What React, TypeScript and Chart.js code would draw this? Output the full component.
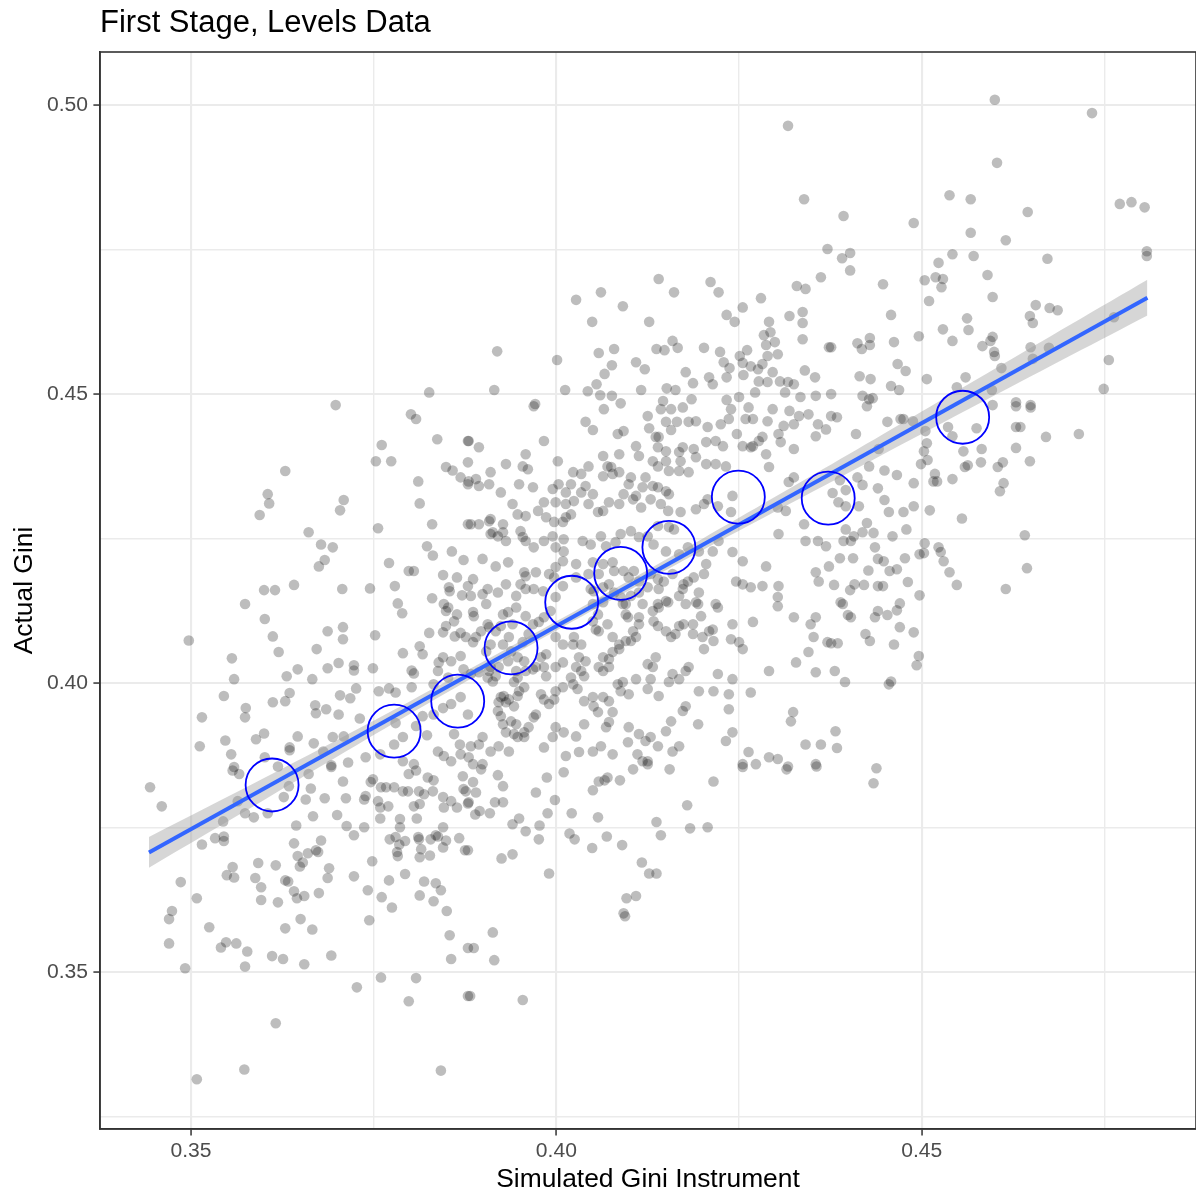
import React, { useEffect, useRef } from 'react';
import { Chart, registerables } from 'chart.js';

Chart.register(...registerables);

const chartTitle = 'First Stage, Levels Data';
const xAxisTitle = 'Simulated Gini Instrument';
const yAxisTitle = 'Actual Gini';

const xMajorTicks = [0.35, 0.4, 0.45];
const xTickLabels = ['0.35', '0.40', '0.45'];
const xMinorTicks = [0.375, 0.425, 0.475];
const yMajorTicks = [0.35, 0.4, 0.45, 0.5];
const yTickLabels = ['0.35', '0.40', '0.45', '0.50'];
const yMinorTicks = [0.325, 0.375, 0.425, 0.475];
const xRange = [0.33755, 0.48753];
const yRange = [0.3229, 0.50917];

// fitted line (geom_smooth, method = lm)
const fitX = [0.34425, 0.48088];
const fitY = [0.37072, 0.46666];
// confidence band
const bandX = [0.34425, 0.36, 0.38, 0.4, 0.42, 0.44, 0.46, 0.48088];
const bandLower = [0.3681, 0.3798, 0.3947, 0.4091, 0.423, 0.4364, 0.4498, 0.4636];
const bandUpper = [0.3734, 0.3836, 0.3969, 0.4107, 0.425, 0.4396, 0.4544, 0.4698];

// binned means (blue open circles)
const binX = [0.3611, 0.3778, 0.3865, 0.3938, 0.4021, 0.4088, 0.4154, 0.4249, 0.4372, 0.4556];
const binY = [0.3824, 0.3917, 0.3969, 0.4061, 0.414, 0.419, 0.4235, 0.4322, 0.432, 0.446];

// scatter: [simulated instrument, actual gini]
const giniPoints: [number, number][] = [
  [0.4733,0.4986],[0.4600,0.5009],[0.4317,0.4964],[0.4603,0.4900],[0.4771,0.4829],[0.4787,0.4832],[0.4805,0.4823],[0.4808,0.4747],[0.4808,0.4739],[0.4538,0.4844],
  [0.4567,0.4837],[0.4393,0.4808],[0.4489,0.4796],[0.4645,0.4815],[0.4567,0.4779],[0.4615,0.4766],[0.4339,0.4837],[0.4371,0.4751],[0.4391,0.4735],[0.4402,0.4744],
  [0.4402,0.4714],[0.4542,0.4742],[0.4523,0.4727],[0.4571,0.4739],[0.4672,0.4734],[0.4590,0.4706],[0.4504,0.4697],[0.4519,0.4702],[0.4529,0.4699],[0.4527,0.4685],
  [0.4447,0.4690],[0.4597,0.4668],[0.4510,0.4661],[0.4656,0.4654],[0.4675,0.4649],[0.4686,0.4645],[0.4648,0.4635],[0.4652,0.4623],[0.4763,0.4633],[0.4562,0.4631],
  [0.4529,0.4612],[0.4564,0.4611],[0.4458,0.4637],[0.4496,0.4600],[0.4542,0.4592],[0.4597,0.4599],[0.4594,0.4592],[0.4583,0.4583],[0.4462,0.4590],[0.4429,0.4597],
  [0.4412,0.4588],[0.4418,0.4578],[0.4429,0.4585],[0.4376,0.4581],[0.4599,0.4573],[0.4600,0.4566],[0.4649,0.4581],[0.4674,0.4580],[0.4652,0.4561],[0.4609,0.4545],
  [0.4467,0.4552],[0.4478,0.4540],[0.4415,0.4531],[0.4430,0.4526],[0.4507,0.4526],[0.4560,0.4529],[0.4756,0.4559],[0.4749,0.4509],[0.4458,0.4514],[0.4469,0.4507],
  [0.4419,0.4497],[0.4428,0.4491],[0.4433,0.4493],[0.4376,0.4500],[0.4548,0.4512],[0.4596,0.4507],[0.4629,0.4486],[0.4649,0.4481],[0.4597,0.4481],[0.4425,0.4479],
  [0.4715,0.4431],[0.4670,0.4426],
  [0.4140,0.4699],[0.4211,0.4694],[0.4222,0.4676],[0.4161,0.4676],[0.4061,0.4676],[0.4027,0.4663],[0.4091,0.4652],[0.4049,0.4625],[0.4127,0.4625],[0.4233,0.4637],
  [0.4244,0.4625],[0.4255,0.4650],[0.4280,0.4666],[0.4329,0.4687],[0.4341,0.4682],[0.4362,0.4702],[0.4319,0.4635],[0.4337,0.4642],[0.4337,0.4623],[0.4337,0.4595],
  [0.4373,0.4581],[0.4291,0.4625],[0.4284,0.4602],[0.4293,0.4607],[0.4299,0.4590],[0.4287,0.4585],[0.4303,0.4569],[0.4289,0.4566],[0.4282,0.4552],[0.4276,0.4543],
  [0.4266,0.4548],[0.4255,0.4554],[0.4261,0.4576],[0.4251,0.4566],[0.4237,0.4545],[0.4229,0.4555],[0.4224,0.4573],[0.4202,0.4580],[0.4166,0.4580],[0.4159,0.4592],
  [0.4148,0.4576],[0.4137,0.4578],[0.4109,0.4555],[0.4121,0.4543],[0.4079,0.4578],[0.4058,0.4571],[0.4076,0.4550],[0.4066,0.4535],[0.4001,0.4559],[0.3919,0.4574],
  [0.3915,0.4507],[0.3971,0.4483],[0.4012,0.4507],[0.4043,0.4505],[0.4055,0.4517],[0.4060,0.4498],[0.4076,0.4497],[0.4088,0.4484],[0.4116,0.4507],[0.4151,0.4510],
  [0.4163,0.4507],[0.4177,0.4538],[0.4187,0.4519],[0.4209,0.4529],[0.4214,0.4517],[0.4233,0.4529],[0.4256,0.4533],[0.4272,0.4503],[0.4277,0.4522],[0.4289,0.4521],
  [0.4296,0.4538],[0.4306,0.4522],[0.4317,0.4521],[0.4325,0.4517],[0.4340,0.4541],[0.4354,0.4529],[0.4313,0.4503],[0.4334,0.4495],[0.4355,0.4497],[0.4250,0.4495],
  [0.4233,0.4490],[0.4185,0.4491],[0.4146,0.4488],[0.3826,0.4503],[0.3698,0.4481],
  [0.3801,0.4465],[0.3808,0.4457],[0.3761,0.4412],[0.3753,0.4384],[0.3774,0.4384],[0.3837,0.4422],[0.3849,0.4374],[0.3858,0.4368],[0.3869,0.4356],[0.3879,0.4382],
  [0.3879,0.4419],[0.3879,0.4344],[0.3811,0.4349],[0.3813,0.4311],[0.3830,0.4275],[0.3879,0.4275],[0.3629,0.4367],[0.3605,0.4327],[0.3607,0.4311],[0.3594,0.4291],
  [0.3709,0.4317],[0.3704,0.4299],[0.3756,0.4268],[0.3661,0.4261],[0.3678,0.4240],[0.3694,0.4235],[0.3683,0.4213],[0.3675,0.4202],[0.3823,0.4237],[0.3831,0.4221],
  [0.3857,0.4228],[0.3873,0.4213],[0.3771,0.4208],[0.3798,0.4194],[0.3805,0.4194],[0.3845,0.4187],[0.3864,0.4183],[0.3879,0.4168],[0.3853,0.4166],[0.3854,0.4159],
  [0.3871,0.4152],[0.3830,0.4147],[0.3846,0.4137],[0.3852,0.4131],[0.3849,0.4125],[0.3864,0.4119],[0.3860,0.4107],[0.3849,0.4099],[0.3845,0.4088],[0.3869,0.4087],
  [0.3861,0.4081],[0.3826,0.4087],[0.3641,0.4170],[0.3600,0.4161],[0.3615,0.4161],[0.3707,0.4163],[0.3745,0.4164],[0.3779,0.4168],[0.3783,0.4138],[0.3789,0.4121],
  [0.3574,0.4137],[0.3601,0.4111],[0.3612,0.4081],[0.3497,0.4074],[0.3687,0.4090],[0.3708,0.4097],[0.3708,0.4076],[0.3752,0.4083],[0.3620,0.4054],[0.3672,0.4059],
  [0.3556,0.4043],[0.3559,0.4007],[0.3545,0.3978],[0.3646,0.4024],[0.3631,0.4012],[0.3666,0.4007],[0.3687,0.4026],[0.3702,0.4035],[0.3723,0.4031],[0.3723,0.4022],
  [0.3749,0.4026],[0.3790,0.4052],[0.3813,0.4064],[0.3817,0.4050],[0.3802,0.4022],[0.3805,0.4017],[0.3839,0.4036],[0.3845,0.4045],[0.3856,0.4038],[0.3869,0.4047],
  [0.3838,0.4021],[0.3832,0.3998],[0.3852,0.4010],[0.3873,0.4024],[0.3802,0.3993],[0.3771,0.3991],[0.3780,0.3984],[0.3757,0.3986],[0.3726,0.3991],[0.3704,0.3979],
  [0.3718,0.3974],[0.3635,0.3983],[0.3629,0.3969],[0.3612,0.3967],[0.3670,0.3962],[0.3671,0.3948],[0.3685,0.3955],[0.3702,0.3946],[0.3731,0.3939],[0.3575,0.3957],
  [0.3574,0.3941],[0.3515,0.3941],[0.3512,0.3891],[0.3547,0.3901],[0.3555,0.3877],[0.3589,0.3903],[0.3600,0.3913],[0.3646,0.3908],[0.3635,0.3889],[0.3635,0.3884],
  [0.3668,0.3896],[0.3694,0.3907],[0.3709,0.3908],[0.3681,0.3882],[0.3715,0.3863],[0.3739,0.3872],[0.3759,0.3877],[0.3778,0.3894],[0.3790,0.3907],[0.3780,0.3931],
  [0.3808,0.3926],[0.3817,0.3943],[0.3823,0.3910],[0.3832,0.3946],[0.3845,0.3957],[0.3856,0.3964],[0.3838,0.3882],[0.3846,0.3874],[0.3856,0.3865],[0.3868,0.3894],
  [0.3869,0.3877],[0.3860,0.3912],[0.3790,0.3865],[0.3805,0.3860],[0.3692,0.3858],[0.3601,0.3872],[0.3559,0.3855],[0.3879,0.3946],[0.3869,0.3976],
  [0.3444,0.3820],[0.3460,0.3787],[0.3557,0.3849],[0.3566,0.3843],[0.3619,0.3856],[0.3634,0.3822],[0.3627,0.3803],[0.3605,0.3775],[0.3586,0.3768],[0.3574,0.3775],
  [0.3544,0.3761],[0.3533,0.3732],[0.3545,0.3735],[0.3545,0.3727],[0.3515,0.3721],[0.3564,0.3796],[0.3661,0.3843],[0.3664,0.3818],[0.3657,0.3799],[0.3692,0.3855],
  [0.3708,0.3830],[0.3712,0.3801],[0.3683,0.3801],[0.3667,0.3770],[0.3700,0.3772],[0.3644,0.3754],[0.3641,0.3723],[0.3678,0.3728],[0.3671,0.3711],[0.3674,0.3708],
  [0.3660,0.3706],[0.3646,0.3701],[0.3653,0.3690],[0.3649,0.3683],[0.3629,0.3659],[0.3633,0.3657],[0.3592,0.3689],[0.3616,0.3685],[0.3557,0.3682],[0.3549,0.3668],
  [0.3559,0.3664],[0.3588,0.3663],[0.3596,0.3647],[0.3596,0.3625],[0.3619,0.3621],[0.3641,0.3640],[0.3645,0.3628],[0.3655,0.3632],[0.3675,0.3637],[0.3689,0.3680],
  [0.3687,0.3663],[0.3713,0.3753],[0.3723,0.3737],[0.3737,0.3751],[0.3737,0.3799],[0.3739,0.3805],[0.3749,0.3834],[0.3746,0.3829],[0.3723,0.3666],[0.3748,0.3692],
  [0.3742,0.3642],[0.3761,0.3630],[0.3775,0.3612],[0.3771,0.3659],[0.3756,0.3796],[0.3759,0.3785],[0.3759,0.3766],[0.3770,0.3787],[0.3760,0.3820],[0.3767,0.3820],
  [0.3778,0.3820],[0.3790,0.3813],[0.3797,0.3813],[0.3805,0.3787],[0.3798,0.3843],[0.3808,0.3849],[0.3812,0.3813],[0.3813,0.3791],[0.3824,0.3837],[0.3832,0.3832],
  [0.3819,0.3808],[0.3831,0.3813],[0.3845,0.3803],[0.3856,0.3796],[0.3846,0.3785],[0.3872,0.3839],[0.3873,0.3817],[0.3879,0.3792],[0.3864,0.3785],[0.3786,0.3765],
  [0.3786,0.3751],[0.3809,0.3766],[0.3772,0.3730],[0.3780,0.3734],[0.3785,0.3721],[0.3793,0.3727],[0.3782,0.3708],[0.3783,0.3701],[0.3811,0.3734],[0.3812,0.3730],
  [0.3815,0.3713],[0.3828,0.3730],[0.3835,0.3737],[0.3838,0.3735],[0.3845,0.3751],[0.3849,0.3728],[0.3845,0.3716],[0.3867,0.3732],[0.3875,0.3711],[0.3813,0.3699],
  [0.3827,0.3702],[0.3793,0.3670],[0.3819,0.3657],[0.3835,0.3654],[0.3842,0.3642],[0.3813,0.3633],[0.3832,0.3623],[0.3850,0.3606],[0.3854,0.3564],[0.3856,0.3523],
  [0.3879,0.3542],[0.3879,0.3459],[0.3808,0.3490],[0.3798,0.3450],[0.3760,0.3491],[0.3727,0.3474],[0.3842,0.3330],[0.3744,0.3590],[0.3692,0.3529],[0.3666,0.3574],
  [0.3650,0.3592],[0.3629,0.3576],[0.3611,0.3528],[0.3626,0.3523],[0.3655,0.3514],[0.3574,0.3510],[0.3577,0.3536],[0.3562,0.3550],[0.3548,0.3552],[0.3541,0.3543],
  [0.3525,0.3578],[0.3508,0.3628],[0.3486,0.3656],[0.3474,0.3606],[0.3470,0.3592],[0.3470,0.3550],[0.3492,0.3507],[0.3616,0.3412],[0.3573,0.3332],[0.3508,0.3315],
  [0.3897,0.3851],[0.3920,0.3841],[0.3927,0.3822],[0.3886,0.3829],[0.3890,0.3811],[0.3876,0.3813],[0.3880,0.3794],[0.3889,0.3773],[0.3895,0.3779],[0.3909,0.3775],
  [0.3916,0.3794],[0.3927,0.3794],[0.3949,0.3766],[0.3940,0.3756],[0.3958,0.3744],[0.3972,0.3811],[0.3987,0.3837],[0.4010,0.3846],[0.3998,0.3798],[0.3988,0.3775],
  [0.3977,0.3754],[0.3976,0.3730],[0.3925,0.3697],[0.3940,0.3704],[0.3990,0.3671],[0.3879,0.3711],[0.4018,0.3740],[0.4025,0.3730],[0.4021,0.3775],[0.4049,0.3715],
  [0.4057,0.3768],[0.4069,0.3735],[0.4090,0.3720],[0.4050,0.3815],[0.4058,0.3830],[0.4070,0.3837],[0.4066,0.3832],[0.4087,0.3832],[0.4105,0.3851],[0.4125,0.3860],
  [0.4155,0.3851],[0.4137,0.3760],[0.4143,0.3737],[0.4117,0.3690],[0.4127,0.3671],[0.4137,0.3671],[0.4096,0.3628],[0.4109,0.3632],[0.4092,0.3602],[0.4094,0.3597],
  [0.4179,0.3789],[0.4183,0.3749],[0.4207,0.3751],[0.4215,0.3830],[0.4255,0.3855],[0.4315,0.3851],[0.4356,0.3856],[0.3913,0.3569],[0.3887,0.3542],[0.3915,0.3521],
  [0.3882,0.3459],[0.3954,0.3452],[0.4438,0.3853],[0.4434,0.3827],
  [0.4384,0.4460],[0.4410,0.4431],[0.4453,0.4452],[0.4471,0.4457],[0.4475,0.4457],[0.4488,0.4453],[0.4505,0.4436],[0.4507,0.4415],[0.4503,0.4401],[0.4508,0.4386],
  [0.4499,0.4379],[0.4441,0.4405],[0.4428,0.4375],[0.4449,0.4368],[0.4466,0.4360],[0.4489,0.4346],[0.4518,0.4362],[0.4521,0.4349],[0.4516,0.4349],[0.4542,0.4353],
  [0.4557,0.4401],[0.4563,0.4377],[0.4559,0.4374],[0.4582,0.4405],[0.4581,0.4382],[0.4575,0.4441],[0.4536,0.4443],[0.4542,0.4427],[0.4629,0.4479],[0.4629,0.4443],
  [0.4635,0.4443],[0.4629,0.4407],[0.4649,0.4477],[0.4648,0.4384],[0.4611,0.4382],[0.4604,0.4374],[0.4612,0.4346],[0.4607,0.4332],[0.4555,0.4285],[0.4641,0.4256],
  [0.4644,0.4199],[0.4615,0.4163],[0.4548,0.4170],[0.4538,0.4192],[0.4530,0.4211],[0.4523,0.4235],[0.4526,0.4227],[0.4504,0.4242],[0.4497,0.4223],[0.4503,0.4225],
  [0.4481,0.4175],[0.4497,0.4152],[0.4470,0.4138],[0.4466,0.4126],[0.4453,0.4118],[0.4440,0.4125],[0.4436,0.4114],[0.4470,0.4097],[0.4489,0.4088],[0.4462,0.4067],
  [0.4429,0.4073],[0.4423,0.4085],[0.4496,0.4047],[0.4493,0.4031],[0.4458,0.4003],[0.4455,0.3998],[0.4395,0.4002],[0.4381,0.4021],[0.4385,0.4069],[0.4376,0.4069],
  [0.4403,0.4114],[0.4399,0.4118],[0.4392,0.4137],[0.4389,0.4140],[0.4402,0.4161],[0.4408,0.4171],[0.4421,0.4170],[0.4440,0.4168],[0.4447,0.4168],[0.4427,0.4195],
  [0.4456,0.4194],[0.4466,0.4197],[0.4440,0.4215],[0.4448,0.4211],[0.4477,0.4216],[0.4460,0.4254],[0.4479,0.4266],[0.4436,0.4235],[0.4406,0.4216],[0.4388,0.4216],
  [0.4380,0.4170],[0.4396,0.4266],[0.4407,0.4254],[0.4419,0.4261],[0.4434,0.4260],[0.4425,0.4277],[0.4403,0.4246],[0.4393,0.4246],[0.4414,0.4306],[0.4396,0.4306],
  [0.4386,0.4313],[0.4396,0.4334],[0.4388,0.4351],[0.4378,0.4329],[0.4449,0.4317],[0.4455,0.4296],[0.4475,0.4296],[0.4489,0.4306],[0.4511,0.4299],[0.4440,0.4337],
  [0.4412,0.4356],[0.4419,0.4343],[0.4382,0.3917],[0.4384,0.3888],
  [0.3969,0.4479],[0.4125,0.4462],[0.4143,0.4474],[0.4157,0.4474],[0.4173,0.4477],[0.4165,0.4452],[0.4191,0.4453],[0.4207,0.4443],[0.4225,0.4448],[0.4236,0.4457],
  [0.4239,0.4474],[0.4263,0.4477],[0.4269,0.4457],[0.4259,0.4457],[0.4289,0.4453],[0.4296,0.4474],[0.4319,0.4471],[0.4332,0.4462],[0.4345,0.4465],[0.4311,0.4445],
  [0.4325,0.4448],[0.4358,0.4448],[0.4355,0.4427],[0.4369,0.4439],[0.4376,0.4462],[0.4040,0.4452],[0.4050,0.4438],[0.4084,0.4431],[0.4092,0.4436],[0.4065,0.4474],
  [0.4127,0.4441],[0.4140,0.4426],[0.4150,0.4452],[0.4157,0.4438],[0.4181,0.4452],[0.4218,0.4419],[0.4205,0.4417],[0.4228,0.4410],[0.4247,0.4431],[0.4255,0.4410],
  [0.4269,0.4410],[0.4277,0.4419],[0.4282,0.4426],[0.4287,0.4396],[0.4307,0.4417],[0.4304,0.4431],[0.4325,0.4405],[0.4291,0.4374],[0.4266,0.4408],[0.4173,0.4408],
  [0.4168,0.4400],[0.4188,0.4405],[0.4191,0.4391],[0.4170,0.4384],[0.4150,0.4401],[0.4136,0.4426],[0.4139,0.4408],[0.4113,0.4393],[0.4109,0.4410],[0.4132,0.4384],
  [0.4139,0.4375],[0.4150,0.4384],[0.4154,0.4367],[0.4168,0.4367],[0.4181,0.4365],[0.4205,0.4379],[0.4218,0.4379],[0.4232,0.4375],[0.4086,0.4396],[0.4064,0.4393],
  [0.4070,0.4375],[0.4075,0.4374],[0.4077,0.4362],[0.4086,0.4365],[0.4064,0.4358],[0.4044,0.4375],[0.4034,0.4362],[0.4023,0.4365],[0.4003,0.4344],[0.4020,0.4344],
  [0.4040,0.4341],[0.4050,0.4327],[0.4034,0.4330],[0.4013,0.4330],[0.3995,0.4336],[0.3983,0.4313],[0.3999,0.4313],[0.4013,0.4310],[0.4024,0.4315],[0.4044,0.4310],
  [0.4057,0.4296],[0.4064,0.4298],[0.4072,0.4313],[0.4086,0.4310],[0.4092,0.4327],[0.4099,0.4344],[0.4102,0.4356],[0.4109,0.4324],[0.4105,0.4318],[0.4118,0.4339],
  [0.4122,0.4356],[0.4132,0.4341],[0.4139,0.4339],[0.4150,0.4332],[0.4154,0.4327],[0.4116,0.4304],[0.4143,0.4310],[0.4129,0.4318],[0.4153,0.4298],[0.4170,0.4296],
  [0.4191,0.4301],[0.4202,0.4310],[0.4207,0.4318],[0.4221,0.4306],[0.4241,0.4324],[0.4239,0.4296],[0.4020,0.4292],[0.4013,0.4287],[0.4009,0.4279],[0.3986,0.4287],
  [0.3997,0.4279],[0.3975,0.4298],[0.3958,0.4289],[0.3947,0.4292],[0.3940,0.4310],[0.3927,0.4275],[0.3931,0.4246],[0.3920,0.4254],[0.3910,0.4258],[0.3908,0.4280],
  [0.3894,0.4275],[0.3883,0.4275],[0.3951,0.4263],[0.3954,0.4253],[0.3958,0.4246],[0.3969,0.4235],[0.3983,0.4246],[0.3995,0.4254],[0.4010,0.4249],[0.3999,0.4235],
  [0.4010,0.4228],[0.4036,0.4246],[0.4047,0.4240],[0.4061,0.4254],[0.4068,0.4237],[0.4081,0.4244],[0.4088,0.4258],[0.4102,0.4263],[0.4113,0.4253],[0.4125,0.4254],
  [0.4139,0.4272],[0.4154,0.4270],[0.4161,0.4266],[0.4133,0.4240],[0.4150,0.4228],[0.4168,0.4223],[0.4180,0.4235],[0.4195,0.4228],[0.4214,0.4228],[0.4222,0.4246],
  [0.4241,0.4227],[0.4255,0.4211],[0.4287,0.4202],[0.4304,0.4258],[0.4339,0.4275],[0.4341,0.4246],[0.4358,0.4246],[0.4369,0.4237],[0.4325,0.4356],[0.4318,0.4348],
  [0.4314,0.4298],[0.4303,0.4304],[0.4355,0.4192],[0.4359,0.4176],[0.4373,0.4202],[0.4282,0.4168],[0.4266,0.4166],[0.4255,0.4171],[0.4246,0.4176],[0.4304,0.4168],
  [0.4303,0.4149],[0.4303,0.4133],[0.4325,0.4114],[0.4348,0.4102],[0.4355,0.4114],[0.4352,0.4080],[0.4371,0.4071],[0.4345,0.4054],[0.4328,0.4036],[0.4355,0.4019],
  [0.4291,0.4021],[0.4269,0.4106],[0.4241,0.4102],[0.4221,0.4131],[0.4218,0.4137],[0.4194,0.4137],[0.4191,0.4140],[0.4177,0.4137],[0.4198,0.4116],[0.4187,0.4102],
  [0.4209,0.4090],[0.4214,0.4093],[0.4200,0.4080],[0.4215,0.4073],[0.4239,0.4076],[0.4250,0.4071],[0.4255,0.4059],[0.4202,0.4059],[0.4187,0.4085],[0.4174,0.4102],
  [0.4168,0.4099],[0.4163,0.4085],[0.4150,0.4090],[0.4157,0.4080],[0.4133,0.4107],[0.4139,0.4099],[0.4132,0.4125],[0.4113,0.4114],[0.4113,0.4102],[0.4095,0.4119],
  [0.4098,0.4114],[0.4091,0.4137],[0.4095,0.4137],[0.4118,0.4137],[0.4139,0.4137],[0.4140,0.4131],[0.4150,0.4142],[0.4153,0.4140],[0.4168,0.4151],[0.4173,0.4163],
  [0.4195,0.4157],[0.4205,0.4206],[0.4202,0.4189],[0.4188,0.4183],[0.4180,0.4176],[0.4174,0.4171],[0.4159,0.4189],[0.4147,0.4176],[0.4140,0.4163],[0.4125,0.4166],
  [0.4113,0.4157],[0.4102,0.4151],[0.4113,0.4176],[0.4129,0.4189],[0.4139,0.4180],[0.4099,0.4183],[0.4106,0.4194],[0.4092,0.4194],[0.4077,0.4209],[0.4079,0.4194],
  [0.4064,0.4206],[0.4058,0.4189],[0.4050,0.4209],[0.4044,0.4189],[0.4047,0.4163],[0.4051,0.4159],[0.4064,0.4166],[0.4072,0.4171],[0.4079,0.4157],[0.4088,0.4149],
  [0.4064,0.4140],[0.4050,0.4137],[0.4057,0.4119],[0.4050,0.4107],[0.4054,0.4093],[0.4058,0.4090],[0.4070,0.4102],[0.4077,0.4080],[0.4086,0.4067],[0.4095,0.4073],
  [0.4102,0.4073],[0.4109,0.4080],[0.4105,0.4090],[0.4077,0.4054],[0.4086,0.4059],[0.4072,0.4042],[0.4064,0.4045],[0.4058,0.4028],[0.4064,0.4021],[0.4072,0.4028],
  [0.4034,0.4067],[0.4023,0.4067],[0.4024,0.4080],[0.4009,0.4067],[0.3999,0.4080],[0.4031,0.4045],[0.4040,0.4038],[0.4027,0.4028],[0.4034,0.4021],[0.4038,0.4012],
  [0.4009,0.4036],[0.3999,0.4028],[0.3986,0.4050],[0.3979,0.4045],[0.3972,0.4028],[0.3983,0.4028],[0.3986,0.4012],[0.3968,0.4024],[0.3958,0.4021],[0.3956,0.4038],
  [0.3947,0.4045],[0.3938,0.4055],[0.3934,0.4038],[0.3921,0.4028],[0.3917,0.4012],[0.3913,0.4003],[0.3906,0.4010],[0.3908,0.4021],[0.3910,0.4028],[0.3894,0.4019],
  [0.3883,0.4016],[0.3945,0.4021],[0.3947,0.4010],[0.3942,0.4002],[0.3956,0.3993],[0.3949,0.3986],[0.3947,0.3978],[0.3935,0.3972],[0.3928,0.3978],[0.3924,0.3976],
  [0.3921,0.3967],[0.3931,0.3967],[0.3942,0.3960],[0.3924,0.3943],[0.3920,0.3952],[0.3927,0.3929],[0.3938,0.3934],[0.3945,0.3929],[0.3931,0.3915],[0.3942,0.3912],
  [0.3956,0.3915],[0.3962,0.3924],[0.3969,0.3941],[0.3972,0.3946],[0.3956,0.3907],[0.3947,0.3907],[0.3935,0.3882],[0.3921,0.3891],[0.3910,0.3882],[0.3899,0.3907],
  [0.3894,0.3894],[0.3883,0.3891],[0.3880,0.3872],[0.3886,0.3860],[0.3899,0.3860],[0.3979,0.3981],[0.3983,0.3972],[0.3990,0.3964],[0.3999,0.3986],[0.3997,0.3972],
  [0.4009,0.3993],[0.4020,0.4010],[0.4023,0.3998],[0.4029,0.3990],[0.4038,0.3969],[0.4050,0.3976],[0.4051,0.3960],[0.4057,0.3950],[0.4064,0.3976],[0.4072,0.3969],
  [0.4084,0.3998],[0.4091,0.4002],[0.4088,0.3986],[0.4099,0.3981],[0.4109,0.4007],[0.4125,0.4033],[0.4132,0.4028],[0.4136,0.4045],[0.4129,0.4007],[0.4125,0.3990],
  [0.4140,0.3978],[0.4154,0.4002],[0.4159,0.4016],[0.4168,0.4007],[0.4177,0.4021],[0.4181,0.4028],[0.4195,0.3986],[0.4215,0.3986],[0.4221,0.4016],[0.4236,0.3981],
  [0.4241,0.4007],[0.4236,0.3955],[0.4266,0.3984],[0.4194,0.3929],[0.4173,0.3952],[0.4177,0.3960],[0.4157,0.3934],[0.4150,0.3917],[0.4129,0.3907],[0.4122,0.3900],
  [0.4113,0.3912],[0.4099,0.3924],[0.4098,0.3898],[0.4077,0.3950],[0.4072,0.3933],[0.4068,0.3924],[0.4038,0.3929],[0.4027,0.3908],[0.4010,0.3915],[0.3999,0.3924],
  [0.3995,0.3907],[0.3983,0.3889],[0.4050,0.3882],[0.4061,0.3891],[0.4031,0.3881],[0.4013,0.3874],[0.4077,0.3877],[0.4111,0.3877],[0.4118,0.3865],[0.4125,0.3865],
  [0.4139,0.3891],[0.4159,0.3882],[0.4168,0.3891],[0.4232,0.3900],[0.4241,0.3915],[0.4263,0.3881],[0.4255,0.3860],[0.4291,0.3872],[0.4303,0.3869],[0.4317,0.3856],
  [0.4341,0.3894],[0.4362,0.3894],[0.4355,0.3860],[0.4324,0.3950],[0.4321,0.3934],[0.4273,0.3860],
  [0.3880,0.4419],[0.3894,0.4408],[0.3931,0.4379],[0.3954,0.4375],[0.3958,0.4396],[0.3961,0.4370],[0.3983,0.4419],[0.4002,0.4384],[0.3968,0.4339],[0.3949,0.4344],
  [0.3924,0.4330],[0.3908,0.4344],[0.3890,0.4353],[0.3894,0.4341],[0.3880,0.4349],[0.3910,0.4365],[0.3910,0.4284],[0.3913,0.4261],[0.3927,0.4261],[0.3886,0.4180],
  [0.3899,0.4215],[0.3917,0.4202],[0.3934,0.4209],[0.3956,0.4192],[0.3958,0.4185],[0.3972,0.4192],[0.3951,0.4171],[0.3958,0.4163],[0.3945,0.4151],[0.3931,0.4171],
  [0.3920,0.4157],[0.3906,0.4163],[0.3899,0.4154],[0.3883,0.4151],[0.3886,0.4123],[0.3887,0.4116],[0.3904,0.4137],[0.3927,0.4119],[0.3945,0.4131],[0.3934,0.4123],
  [0.3969,0.4163],[0.3982,0.4159],[0.3990,0.4189],[0.3997,0.4183],[0.3999,0.4201],[0.4009,0.4211],[0.4027,0.4206],[0.4027,0.4183],[0.4009,0.4168],[0.3999,0.4149],
  [0.3992,0.4125],[0.3983,0.4114],[0.3968,0.4102],[0.3976,0.4106],[0.3958,0.4116],[0.3940,0.4102],[0.3924,0.4099],[0.3917,0.4090],[0.3908,0.4097],[0.3906,0.4102],
  [0.3897,0.4090],[0.3890,0.4080],[0.3886,0.4071],[0.3910,0.4067],[0.3927,0.4067],[0.3935,0.4080],[0.3954,0.4071],[0.3962,0.4085],[0.3904,0.4055],[0.3876,0.4080]
];

const isAt = (v: number, arr: number[]) => arr.findIndex((a) => Math.abs(a - v) < 1e-9);

const panelPlugin = {
  id: 'panelDecor',
  afterDatasetsDraw(chart: any) {
    const { ctx, chartArea } = chart;
    ctx.save();
    ctx.strokeStyle = '#333333';
    ctx.lineWidth = 1.6;
    ctx.strokeRect(chartArea.left, chartArea.top, chartArea.right - chartArea.left, chartArea.bottom - chartArea.top);
    ctx.restore();
  },
  afterDraw(chart: any) {
    const { ctx, chartArea } = chart;
    ctx.save();
    ctx.fillStyle = '#000000';
    ctx.font = '31px "Liberation Sans", Arial, sans-serif';
    ctx.textBaseline = 'alphabetic';
    ctx.textAlign = 'left';
    ctx.fillText(chartTitle, chartArea.left, 32);
    ctx.restore();
  },
};

export default function App() {
  const canvasRef = useRef<HTMLCanvasElement | null>(null);

  useEffect(() => {
    if (!canvasRef.current) return;
    const font = '"Liberation Sans", Arial, sans-serif';
    const xTickSet = [...xMajorTicks, ...xMinorTicks].sort((a, b) => a - b);
    const yTickSet = [...yMajorTicks, ...yMinorTicks].sort((a, b) => a - b);

    const chart = new Chart(canvasRef.current, {
      type: 'scatter',
      data: {
        datasets: [
          {
            type: 'scatter',
            label: 'binned',
            data: binX.map((x, i) => ({ x, y: binY[i] })),
            pointRadius: 26.5,
            pointBorderColor: '#0000ff',
            pointBackgroundColor: 'rgba(0,0,0,0)',
            pointBorderWidth: 1.8,
            order: 0,
          },
          {
            type: 'line',
            label: 'fit',
            data: fitX.map((x, i) => ({ x, y: fitY[i] })),
            borderColor: '#3366ff',
            borderWidth: 4,
            pointRadius: 0,
            fill: false,
            order: 1,
          },
          {
            type: 'line',
            label: 'lower',
            data: bandX.map((x, i) => ({ x, y: bandLower[i] })),
            borderWidth: 0,
            borderColor: 'rgba(0,0,0,0)',
            pointRadius: 0,
            fill: false,
            tension: 0.3,
            order: 2,
          },
          {
            type: 'line',
            label: 'upper',
            data: bandX.map((x, i) => ({ x, y: bandUpper[i] })),
            borderWidth: 0,
            borderColor: 'rgba(0,0,0,0)',
            backgroundColor: 'rgba(153,153,153,0.4)',
            pointRadius: 0,
            fill: '-1',
            tension: 0.3,
            order: 2,
          },
          {
            type: 'scatter',
            label: 'points',
            data: giniPoints.map(([x, y]) => ({ x, y })),
            pointRadius: 5.3,
            pointBorderWidth: 0,
            pointBackgroundColor: 'rgba(0,0,0,0.26)',
            order: 3,
          },
        ],
      },
      options: {
        animation: false,
        responsive: false,
        devicePixelRatio: 1,
        events: [],
        layout: { autoPadding: false, padding: { top: 52, right: 0, bottom: 0, left: 0 } },
        plugins: {
          legend: { display: false },
          tooltip: { enabled: false },
          title: { display: false },
        },
        scales: {
          x: {
            type: 'linear',
            min: xRange[0],
            max: xRange[1],
            afterBuildTicks: (s: any) => {
              s.ticks = xTickSet.map((v) => ({ value: v }));
            },
            afterFit: (s: any) => {
              s.height = 67;
              s.paddingLeft = 0;
              s.paddingRight = 0;
            },
            ticks: {
              autoSkip: false,
              maxRotation: 0,
              padding: 3.1,
              color: '#4d4d4d',
              font: { family: font, size: 21.1 },
              callback: (v: any) => {
                const i = isAt(Number(v), xMajorTicks);
                return i >= 0 ? xTickLabels[i] : '';
              },
            },
            grid: {
              color: '#ebebeb',
              lineWidth: (c: any) => (c.tick && isAt(c.tick.value, xMajorTicks) >= 0 ? 2.1 : 1.4),
              tickLength: 6.6,
              tickWidth: 1.5,
              tickColor: (c: any) => (c.tick && isAt(c.tick.value, xMajorTicks) >= 0 ? '#333333' : 'rgba(0,0,0,0)'),
            },
            border: { display: true, color: '#333333', width: 1.6 },
            title: {
              display: true,
              text: xAxisTitle,
              color: '#000000',
              font: { family: font, size: 26.4 },
              padding: { top: 0, bottom: 0.6 },
            },
          },
          y: {
            type: 'linear',
            min: yRange[0],
            max: yRange[1],
            afterBuildTicks: (s: any) => {
              s.ticks = yTickSet.map((v) => ({ value: v }));
            },
            afterFit: (s: any) => {
              s.width = 100;
              s.paddingTop = 0;
              s.paddingBottom = 0;
            },
            ticks: {
              autoSkip: false,
              padding: 5.4,
              color: '#4d4d4d',
              font: { family: font, size: 21.1 },
              callback: (v: any) => {
                const i = isAt(Number(v), yMajorTicks);
                return i >= 0 ? yTickLabels[i] : '';
              },
            },
            grid: {
              color: '#ebebeb',
              lineWidth: (c: any) => (c.tick && isAt(c.tick.value, yMajorTicks) >= 0 ? 2.1 : 1.4),
              tickLength: 6.6,
              tickWidth: 1.5,
              tickColor: (c: any) => (c.tick && isAt(c.tick.value, yMajorTicks) >= 0 ? '#333333' : 'rgba(0,0,0,0)'),
            },
            border: { display: true, color: '#333333', width: 1.6 },
            title: {
              display: true,
              text: yAxisTitle,
              color: '#000000',
              font: { family: font, size: 26.4 },
              padding: { top: 9, bottom: 0 },
            },
          },
        },
      },
      plugins: [panelPlugin],
    } as any);

    return () => chart.destroy();
  }, []);

  return (
    <div style={{ position: 'fixed', left: 0, top: 0, width: 1196, height: 1196, background: '#ffffff' }}>
      <canvas ref={canvasRef} width={1196} height={1196} style={{ display: 'block', width: 1196, height: 1196 }} />
    </div>
  );
}
